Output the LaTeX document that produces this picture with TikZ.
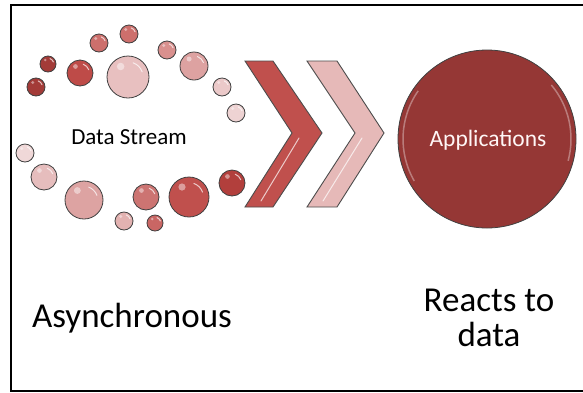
\documentclass[tikz,border=0pt]{standalone}
\usepackage{fontspec}
\setmainfont{Carlito}
\begin{document}
\begin{tikzpicture}[x=1pt,y=-1pt,
  bubble/.style={draw=black!75,line width=0.8pt},
  chev/.style={draw=black!70,line width=0.9pt,line join=miter},
  gloss/.style={white,opacity=0.7,line width=1pt,line cap=round},
  lbl/.style={font=\fontsize{23}{27}\selectfont,inner sep=0pt},
  big/.style={font=\fontsize{35}{35}\selectfont,inner sep=0pt,align=center}]
\useasboundingbox (0,0) rectangle (583,392);
\fill[white] (0,0) rectangle (583,392);
\draw[line width=2pt] (620,391) -- (11,391) -- (11,5) -- (620,5);
% bubbles
\foreach \x/\y/\r/\c in {36/87/9/A33B38, 48/64/8/A33B38, 80/73/13/BE4B48,
  99/43/9/CD6F6C, 129/34/9/CD6F6C, 128/77/21/E8C0C0, 167/50/9/D9908E,
  194/66/14/DDA2A1, 222/87/9/EBC9C9, 236/113/9/EED3D3, 25/153/9/F0D8D8,
  44/177/13/E6BDBD, 84/200/19/DDA3A2, 124/221/9/E3B2B1, 146/197/13/CC7472,
  155/223/8/C96664, 189/197/20/C0504D, 232/183/13/B23F3C}{
  \definecolor{bc}{HTML}{\c}
  \fill[bubble,fill=bc] (\x,\y) circle[radius=\r];
  \draw[gloss] ([shift={(-20:0.72*\r)}]\x,\y) arc[start angle=-20,end angle=-70,radius=0.72*\r];
  \fill[white,opacity=0.45] (\x-0.35*\r,\y-0.5*\r) circle[radius=0.18*\r];
}
\node[lbl] (ds) at (129,137) {Data Stream};
% chevrons
\definecolor{chevA}{HTML}{C0504D}
\definecolor{chevB}{HTML}{E6B9B8}
\filldraw[chev,fill=chevA] (245,61) -- (273,61) -- (322,133) -- (273,207) -- (245,207) -- (292,133) -- cycle;
\draw[gloss] (299,138) -- (261,201);
\filldraw[chev,fill=chevB] (307,61) -- (337,61) -- (384,133) -- (337,207) -- (307,207) -- (355,133) -- cycle;
\draw[gloss] (362,138) -- (323,201);
% applications circle
\definecolor{appc}{HTML}{953735}
\node[circle,draw=black!75,line width=0.8pt,fill=appc,minimum size=178pt,inner sep=0pt] (app) at (487,139) {};
\draw[white,opacity=0.35,line width=1.5pt] (487,139) ++(150:84) arc[start angle=150,end angle=215,radius=84];
\draw[white,opacity=0.35,line width=1.5pt] (487,139) ++(-40:84) arc[start angle=-40,end angle=15,radius=84];
\node[lbl,font=\fontsize{23.5}{27}\selectfont,text=white!85!pink] at (488,140) {Applications};
% bottom labels
\node[big] (asy) at (132,318) {Asynchronous};
\node[big] (rea) at (489,318) {Reacts to\\data};
\end{tikzpicture}
\end{document}
